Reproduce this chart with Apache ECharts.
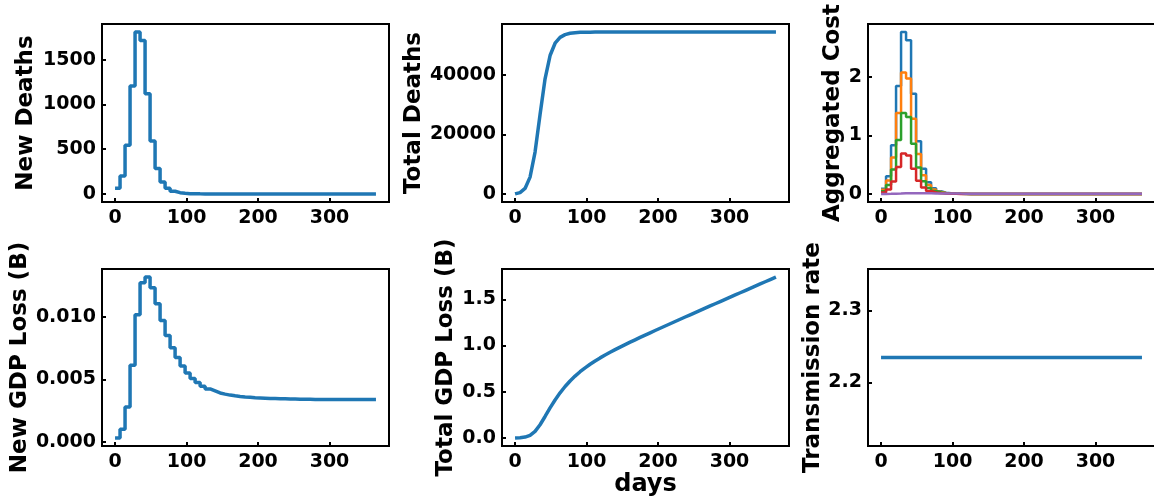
<!DOCTYPE html>
<html>
<head>
<meta charset="utf-8">
<script src="https://cdn.jsdelivr.net/npm/echarts@6/dist/echarts.min.js"></script>
<style>
html,body{margin:0;padding:0;background:#fff;}
#chart{width:1154px;height:498px;}
</style>
</head>
<body>
<div id="chart"></div>
<script>
// ---- data (weekly steps; last entry is day 365) ----
const days = [0,7,14,21,28,35,42,49,56,63,70,77,84,91,98,105,112,119,126,133,140,147,154,161,168,175,182,189,196,203,210,217,224,231,238,245,252,259,266,273,280,287,294,301,308,315,322,329,336,343,350,357,364,365];

const newDeaths = [64,200,545,1205,1808,1715,1120,592,283,132,64,30,14,7,3,1.5,0.7,0.3,0.1,0,0,0,0,0,0,0,0,0,0,0,0,0,0,0,0,0,0,0,0,0,0,0,0,0,0,0,0,0,0,0,0,0,0,0];

const totalDeaths = [0,448,1848,5663,14098,26754,38759,46599,50743,52724,53648,54096,54306,54404,54453,54474,54484,54489,54491,54492,54492,54492,54492,54492,54492,54492,54492,54492,54492,54492,54492,54492,54492,54492,54492,54492,54492,54492,54492,54492,54492,54492,54492,54492,54492,54492,54492,54492,54492,54492,54492,54492,54492,54492];

const costA = [0.09,0.30,0.83,1.84,2.76,2.62,1.71,0.90,0.43,0.20,0.098,0.046,0.021,0.011,0.005,0.002,0.001,0,0,0,0,0,0,0,0,0,0,0,0,0,0,0,0,0,0,0,0,0,0,0,0,0,0,0,0,0,0,0,0,0,0,0,0,0];
const costB = [0.07,0.23,0.62,1.38,2.07,1.97,1.28,0.68,0.32,0.15,0.074,0.035,0.016,0.008,0.004,0.002,0.001,0,0,0,0,0,0,0,0,0,0,0,0,0,0,0,0,0,0,0,0,0,0,0,0,0,0,0,0,0,0,0,0,0,0,0,0,0];
const costC = [0.045,0.15,0.415,0.92,1.38,1.31,0.855,0.45,0.215,0.10,0.049,0.023,0.011,0.005,0.0025,0.001,0,0,0,0,0,0,0,0,0,0,0,0,0,0,0,0,0,0,0,0,0,0,0,0,0,0,0,0,0,0,0,0,0,0,0,0,0,0];
const costD = [0.023,0.075,0.21,0.46,0.69,0.655,0.43,0.225,0.11,0.05,0.025,0.012,0.005,0.003,0.001,0,0,0,0,0,0,0,0,0,0,0,0,0,0,0,0,0,0,0,0,0,0,0,0,0,0,0,0,0,0,0,0,0,0,0,0,0,0,0];
const costE = [0.0003,0.001,0.003,0.006,0.010,0.013,0.013,0.012,0.011,0.010,0.0085,0.0075,0.0068,0.006,0.0055,0.005,0.0048,0.0045,0.0042,0.0041,0.0039,0.0038,0.0037,0.0037,0.0036,0.0036,0.0036,0.0035,0.0035,0.0035,0.0035,0.0035,0.0035,0.0034,0.0034,0.0034,0.0034,0.0034,0.0034,0.0034,0.0034,0.0034,0.0034,0.0034,0.0034,0.0034,0.0034,0.0034,0.0034,0.0034,0.0034,0.0034,0.0034,0.0034];

const newGdpLoss = [0.00032,0.00101,0.0028,0.00613,0.01019,0.01275,0.0132,0.01235,0.01107,0.00973,0.00853,0.00755,0.00675,0.00608,0.00552,0.00507,0.00475,0.00445,0.00424,0.00408,0.00392,0.00383,0.00375,0.00369,0.00364,0.0036,0.00357,0.00354,0.00352,0.0035,0.00348,0.00347,0.00346,0.00345,0.00344,0.00343,0.00342,0.00342,0.00341,0.0034,0.0034,0.0034,0.0034,0.0034,0.0034,0.0034,0.0034,0.0034,0.0034,0.0034,0.0034,0.0034,0.0034,0.0034];

const totalGdpLoss = [0,0.00224,0.00931,0.02891,0.07182,0.14315,0.2324,0.3248,0.41125,0.48874,0.55685,0.61656,0.66941,0.71666,0.75922,0.79786,0.83335,0.8666,0.89775,0.92743,0.95599,0.98343,1.01024,1.03649,1.06232,1.0878,1.113,1.13799,1.16277,1.18741,1.21191,1.23627,1.26056,1.28478,1.30893,1.33301,1.35702,1.38096,1.4049,1.42877,1.45257,1.47637,1.50017,1.52397,1.54777,1.57157,1.59537,1.61917,1.64297,1.66677,1.69057,1.71437,1.73817,1.74157];

const transmission = [2.2345,2.2345];
const transmissionDays = [0,365];

const xTicks = [0,100,200,300];
const yTicks = [[0,500,1000,1500],[0,20000,40000],[0,1,2],[0,0.005,0.010],[0,0.5,1.0,1.5],[2.2,2.3]];
const yLabels = ['New Deaths','Total Deaths','Aggregated Cost','New GDP Loss (B)','Total GDP Loss (B)','Transmission rate'];
const yDigits = [0,0,0,3,1,1];
const colors = ['#1f77b4','#ff7f0e','#2ca02c','#d62728','#9467bd'];

// ---- layout ----
const FONT = 'DejaVu Sans';
const grids = [
  {left:102, top:24, width:287, height:178},
  {left:502, top:24, width:287, height:178},
  {left:868, top:24, width:287, height:178},
  {left:102, top:269, width:287, height:177},
  {left:502, top:269, width:287, height:177},
  {left:868, top:269, width:287, height:177}
];
const nameGaps = [64,75,23,62,44,43];

function pairs(xs, ys){ return xs.map((x,i)=>[x, ys[i]]); }
function lim(arrs){
  let mn=Infinity, mx=-Infinity;
  arrs.forEach(a=>a.forEach(v=>{ if(v<mn)mn=v; if(v>mx)mx=v; }));
  const r = mx-mn;
  return [mn-0.05*r, mx+0.05*r];
}
const yLims = [
  lim([newDeaths]), lim([totalDeaths]), lim([costA,costB,costC,costD,costE]),
  lim([newGdpLoss]), lim([totalGdpLoss]), [2.1116, 2.3574]
];

const tickStyle = {show:true, inside:true, length:4, lineStyle:{color:'#000', width:2}};
const labelFont = {fontFamily:FONT, fontWeight:'bold', fontSize:19, color:'#000'};
const nameFont = {fontFamily:FONT, fontWeight:'bold', fontSize:23, color:'#000'};

const xAxis = grids.map((g,i)=>({
  type:'value', gridIndex:i, min:-18.25, max:383.25,
  splitLine:{show:false}, axisLine:{show:false, onZero:false},
  axisTick:Object.assign({customValues:xTicks}, tickStyle),
  axisLabel:Object.assign({customValues:xTicks, margin:7, formatter:v=>String(v)}, labelFont),
  name: i===4 ? 'days' : '', nameLocation:'middle', nameGap:25,
  nameTextStyle:Object.assign({}, nameFont, {fontSize:24})
}));
const yAxis = grids.map((g,i)=>({
  type:'value', gridIndex:i, min:yLims[i][0], max:yLims[i][1],
  splitLine:{show:false}, axisLine:{show:false, onZero:false},
  axisTick:Object.assign({customValues:yTicks[i]}, tickStyle),
  axisLabel:Object.assign({customValues:yTicks[i], margin:6, formatter:v=>Number(v).toFixed(yDigits[i])}, labelFont),
  name:yLabels[i], nameLocation:'middle', nameGap:nameGaps[i], nameRotate:90,
  nameTextStyle:nameFont
}));

function line(i, xs, ys, color, width, step){
  return {type:'line', xAxisIndex:i, yAxisIndex:i, data:pairs(xs,ys), step:step||false,
    showSymbol:false, symbol:'none', lineStyle:{color:color, width:width}, itemStyle:{color:color}, clip:true, silent:true};
}

const series = [
  line(0, days, newDeaths, colors[0], 3.5, 'end'),
  line(1, days, totalDeaths, colors[0], 3.5),
  line(2, days, costA, colors[0], 2.5, 'end'),
  line(2, days, costB, colors[1], 2.5, 'end'),
  line(2, days, costC, colors[2], 2.5, 'end'),
  line(2, days, costD, colors[3], 2.5, 'end'),
  line(2, days, costE, colors[4], 2.5, 'end'),
  line(3, days, newGdpLoss, colors[0], 3.5, 'end'),
  line(4, days, totalGdpLoss, colors[0], 3.5),
  line(5, transmissionDays, transmission, colors[0], 3.5)
];

const chart = echarts.init(document.getElementById('chart'), null, {renderer:'canvas'});
chart.setOption({
  animation:false,
  backgroundColor:'#fff',
  grid: grids.map(g=>Object.assign({show:true, borderColor:'#000', borderWidth:2, backgroundColor:'transparent', containLabel:false, outerBoundsMode:'none'}, g)),
  xAxis: xAxis,
  yAxis: yAxis,
  series: series
});
</script>
</body>
</html>
